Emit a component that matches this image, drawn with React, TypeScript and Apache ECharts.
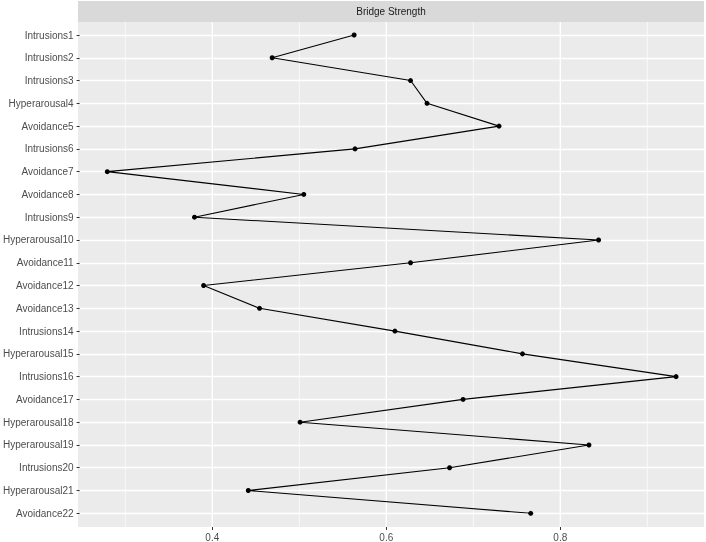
import React, { useEffect, useRef } from "react";
import * as echarts from "echarts";

const categories = [
  "Intrusions1", "Intrusions2", "Intrusions3", "Hyperarousal4", "Avoidance5",
  "Intrusions6", "Avoidance7", "Avoidance8", "Intrusions9", "Hyperarousal10",
  "Avoidance11", "Avoidance12", "Avoidance13", "Intrusions14", "Hyperarousal15",
  "Intrusions16", "Avoidance17", "Hyperarousal18", "Hyperarousal19", "Intrusions20",
  "Hyperarousal21", "Avoidance22",
];
const bridgeStrength = [
  0.562, 0.4675, 0.627, 0.646, 0.729,
  0.563, 0.2775, 0.504, 0.378, 0.8437,
  0.627, 0.3885, 0.453, 0.609, 0.756,
  0.933, 0.6875, 0.4997, 0.8326, 0.672,
  0.44, 0.7655,
];
const xTicks = [0.4, 0.6, 0.8];
const majorGrid = [0.4, 0.6, 0.8];
const minorGrid = [0.3, 0.5, 0.7, 0.9];
const xRange = [0.2456, 0.9652];
const stripTitle = "Bridge Strength";

const FONT = "'Liberation Sans', Arial, Helvetica, sans-serif";

export default function App() {
  const ref = useRef<HTMLDivElement>(null);
  useEffect(() => {
    if (!ref.current) return;
    const chart = echarts.init(ref.current, null, { renderer: "svg" });
    const gridSeries = [
      ...majorGrid.map((v) => ({ v, w: 1.4 })),
      ...minorGrid.map((v) => ({ v, w: 0.7 })),
    ].map(({ v, w }) => ({
      type: "line",
      xAxisIndex: 0,
      yAxisIndex: 0,
      data: [[v, 0], [v, 1]],
      symbol: "none",
      silent: true,
      z: 1,
      lineStyle: { color: "#FFFFFF", width: w },
    }));
    chart.setOption({
      animation: false,
      textStyle: { fontFamily: FONT },
      grid: [
        { left: 78, right: 2, top: 22, bottom: 15, show: true, backgroundColor: "#EBEBEB", borderWidth: 0 },
        { left: 78, right: 2, top: 35, bottom: 28.7 },
      ],
      xAxis: [
        {
          gridIndex: 0,
          type: "value",
          min: xRange[0],
          max: xRange[1],
          axisLine: { show: false },
          axisTick: { show: true, length: 3, customValues: xTicks, lineStyle: { color: "#333333", width: 1 } },
          axisLabel: { customValues: xTicks, color: "#4D4D4D", fontSize: 10, margin: 5, fontFamily: FONT },
          splitLine: { show: false },
        },
        {
          gridIndex: 1,
          type: "value",
          min: xRange[0],
          max: xRange[1],
          show: false,
          splitLine: { show: false },
        },
      ],
      yAxis: [
        { gridIndex: 0, type: "value", min: 0, max: 1, show: false, splitLine: { show: false } },
        {
          gridIndex: 1,
          type: "category",
          data: categories,
          inverse: true,
          boundaryGap: false,
          axisLine: { show: false },
          axisTick: { show: true, length: 3, lineStyle: { color: "#333333", width: 1 } },
          axisLabel: { color: "#4D4D4D", fontSize: 10, margin: 6, interval: 0, fontFamily: FONT },
          splitLine: { show: true, lineStyle: { color: "#FFFFFF", width: 1.4 } },
        },
      ],
      series: [
        ...gridSeries,
        {
          type: "line",
          xAxisIndex: 1,
          yAxisIndex: 1,
          data: bridgeStrength.map((v, i) => [v, categories[i]]),
          symbol: "circle",
          symbolSize: 5,
          showSymbol: true,
          z: 5,
          lineStyle: { color: "#000000", width: 1.1 },
          itemStyle: { color: "#000000" },
        },
      ],
      graphic: [
        { type: "rect", shape: { x: 78, y: 1, width: 626, height: 21 }, style: { fill: "#D9D9D9" }, silent: true },
        {
          type: "text",
          x: 391,
          y: 11.5,
          style: { text: stripTitle, fill: "#1A1A1A", fontSize: 10, fontFamily: FONT, align: "center", verticalAlign: "middle" },
          silent: true,
        },
      ],
    });
    return () => chart.dispose();
  }, []);
  return <div ref={ref} style={{ position: "fixed", left: 0, top: 0, width: 706, height: 542 }} />;
}
